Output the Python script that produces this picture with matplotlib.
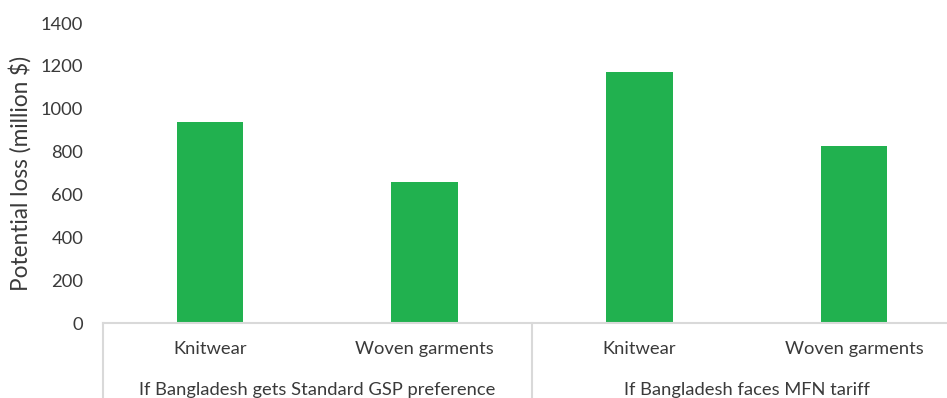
import matplotlib
matplotlib.use("Agg")
import matplotlib.pyplot as plt
import matplotlib.transforms as mtransforms

# potential export loss by product, under two tariff scenarios
products = ["Knitwear", "Woven garments", "Knitwear", "Woven garments"]
scenarios = ["If Bangladesh gets Standard GSP preference", "If Bangladesh faces MFN tariff"]
losses = [938, 659, 1172, 825]
yticks = [0, 200, 400, 600, 800, 1000, 1200, 1400]

plt.rcParams["font.family"] = ["Lato", "DejaVu Sans"]
text_color = "#3a3a3a"
line_color = "#d9d9d9"
bar_color = "#21b14f"

fig = plt.figure(figsize=(9.47, 3.98), dpi=100)
ax = fig.add_axes([102.7 / 947, 75 / 398, 858.8 / 947, 300 / 398])

x = range(len(losses))
ax.bar(x, losses, width=0.31, color=bar_color)
ax.set_xlim(-0.5, len(losses) - 0.5)
ax.set_ylim(0, 1400)
ax.set_yticks(yticks)
ax.set_yticklabels([str(v) for v in yticks], fontsize=13.2, color=text_color)
ax.tick_params(axis="y", length=0, pad=14)
ax.set_xticks([])

for side in ["left", "right", "top"]:
    ax.spines[side].set_visible(False)
ax.spines["bottom"].set_color(line_color)
ax.spines["bottom"].set_linewidth(1.5)

ax.text(-0.096, 0.5, "Potential loss (million $)", transform=ax.transAxes,
        rotation=90, ha="center", va="center", fontsize=16.3, color=text_color)

# two-level category axis
trans = mtransforms.blended_transform_factory(ax.transData, ax.transAxes)
for i, name in enumerate(products):
    ax.text(i, -0.087, name, transform=trans, ha="center", va="center",
            fontsize=13.2, color=text_color)
for g, name in enumerate(scenarios):
    ax.text(2 * g + 0.5, -0.222, name, transform=trans, ha="center", va="center",
            fontsize=13.2, color=text_color)
for xb in [-0.5, 1.5, 3.5]:
    ax.plot([xb, xb], [0, -0.4], transform=trans, color=line_color,
            linewidth=1.5, clip_on=False)

fig.savefig("out.png", dpi=100)
